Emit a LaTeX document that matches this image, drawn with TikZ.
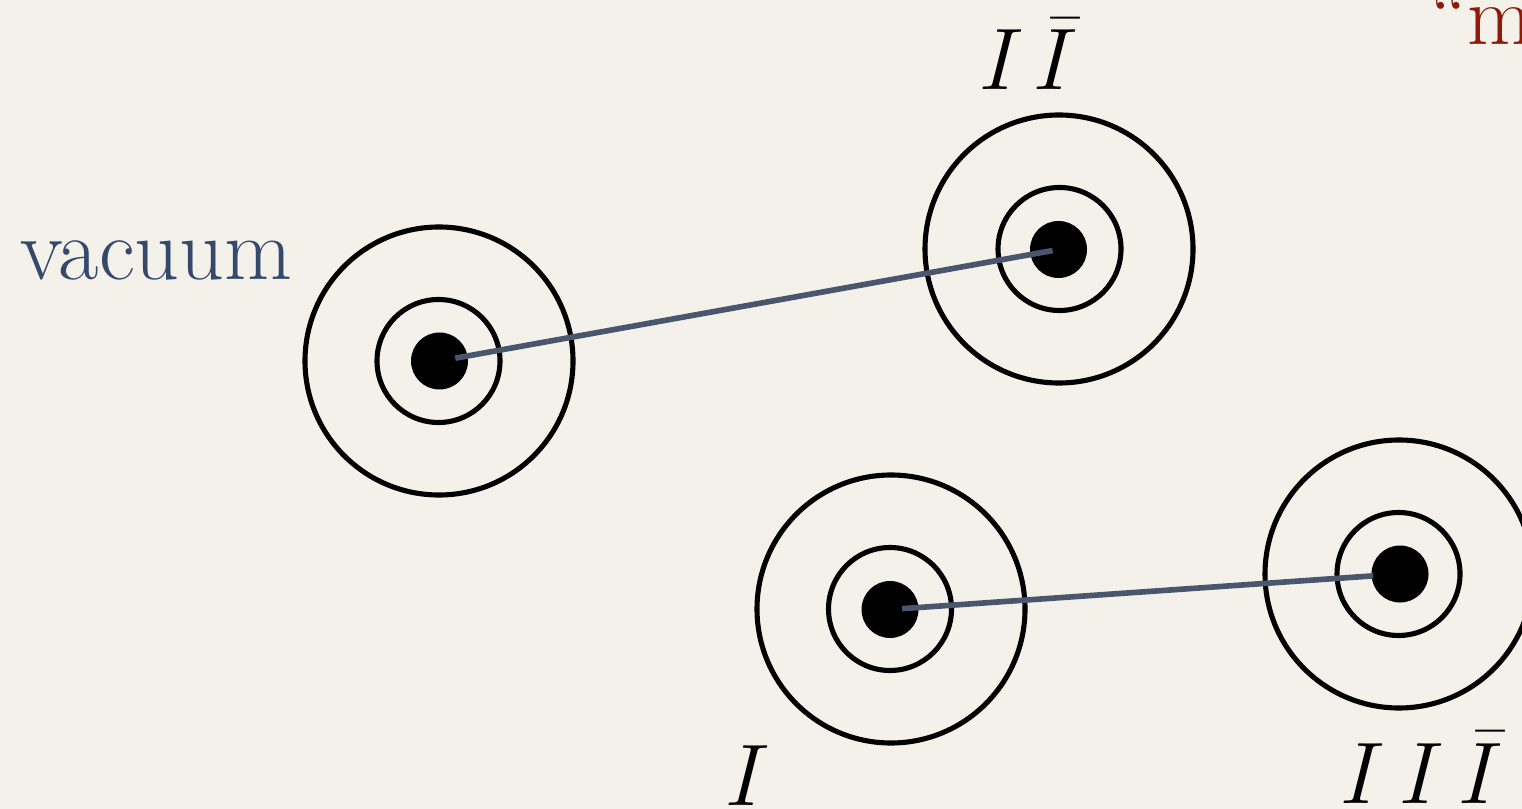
\documentclass[tikz,border=0pt]{standalone}
\usepackage{tikz}
\definecolor{bg}{HTML}{F4F1EA}
\definecolor{linkcol}{HTML}{4A566E}
\definecolor{vaccol}{HTML}{34496B}
\definecolor{quotecol}{HTML}{8E1A08}
\tikzset{
  ringouter/.style={circle, draw=black, line width=1.45pt, minimum size=2.68cm, inner sep=0pt},
  ringinner/.style={circle, draw=black, line width=1.45pt, minimum size=1.23cm, inner sep=0pt},
  dotnode/.style={circle, fill=black, minimum size=0.57cm, inner sep=0pt},
  link/.style={draw=linkcol, line width=1.6pt},
  lbl/.style={font=\fontsize{26}{30}\selectfont, inner sep=0pt}
}
\begin{document}
\begin{tikzpicture}
\fill[bg] (0,0) rectangle (15.22,-8.09);
\useasboundingbox (0,0) rectangle (15.22,-8.09);

% vacuum group
\node[ringouter] (vo) at (4.39,-3.61) {};
\node[ringinner] (vi) at (4.385,-3.61) {};
\node[dotnode] (v) at (4.395,-3.61) {};
% I Ibar group
\node[ringouter] (ao) at (10.59,-2.49) {};
\node[ringinner] (ai) at (10.595,-2.49) {};
\node[dotnode] (a) at (10.585,-2.495) {};
% I group
\node[ringouter] (bo) at (8.91,-6.09) {};
\node[ringinner] (bi) at (8.90,-6.09) {};
\node[dotnode] (b) at (8.90,-6.095) {};
% I I Ibar group
\node[ringouter] (co) at (13.99,-5.74) {};
\node[ringinner] (ci) at (13.985,-5.74) {};
\node[dotnode] (c) at (14.00,-5.74) {};

% connectors
\draw[link, shorten <=0.16cm, shorten >=0.06cm] (v.center) -- (a.center);
\draw[link, shorten <=0.12cm, shorten >=0.27cm] (b.center) -- (c.center);

% labels
\node[anchor=base west, inner sep=0pt, text=vaccol, font=\fontsize{25}{30}\selectfont] (vac) at (0.20,-2.80) {vacuum};
\node[lbl, anchor=base] (lab) at (10.29,-0.90) {$I\mkern2mu\bar I$};
\node[lbl, anchor=base] (lb) at (7.48,-8.05) {$I$};
\node[lbl, anchor=base] (lc) at (14.22,-8.03) {$I\,I\,\bar I$};
\node[anchor=base west, inner sep=0pt, text=quotecol, font=\fontsize{24}{28}\selectfont] (q) at (14.30,-0.45) {``m};
\end{tikzpicture}
\end{document}
